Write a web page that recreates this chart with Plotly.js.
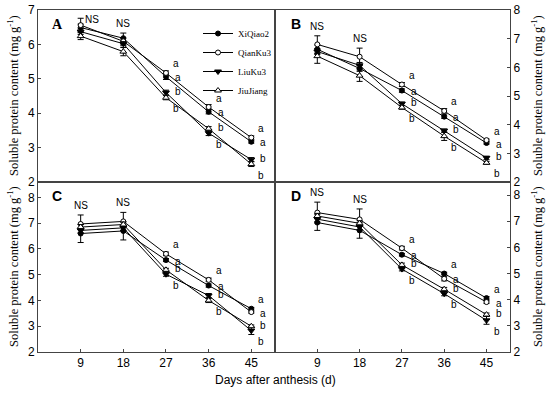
<!DOCTYPE html>
<html>
<head>
<meta charset="utf-8">
<script src="https://cdn.plot.ly/plotly-3.0.1.min.js"></script>
<style>html,body{margin:0;padding:0;background:#fff;}#chart{width:550px;height:399px;}</style>
</head>
<body>
<div id="chart"></div>
<script>
// ---- data ----
const days = [9, 18, 27, 36, 45];
const cultivars = ["XiQiao2", "QianKu3", "LiuKu3", "JiuJiang"];

// Panel A
const A_XiQiao2 = [6.49, 6.18, 5.06, 4.04, 3.17];
const A_QianKu3 = [6.56, 6.09, 5.17, 4.18, 3.29];
const A_LiuKu3 = [6.37, 6.02, 4.60, 3.42, 2.65];
const A_JiuJiang = [6.24, 5.79, 4.45, 3.55, 2.52];
const A_err_XiQiao2 = [0.10, 0.15, 0.08, 0.06, 0.04];
const A_err_QianKu3 = [0.20, 0.10, 0.06, 0.07, 0.05];
const A_err_LiuKu3 = [0.08, 0.06, 0.07, 0.07, 0.06];
const A_err_JiuJiang = [0.10, 0.12, 0.06, 0.06, 0.07];

// Panel B
const B_XiQiao2 = [6.63, 5.96, 5.19, 4.28, 3.36];
const B_QianKu3 = [6.80, 6.37, 5.40, 4.48, 3.46];
const B_LiuKu3 = [6.55, 6.07, 4.73, 3.79, 2.84];
const B_JiuJiang = [6.39, 5.71, 4.60, 3.60, 2.67];
const B_err_XiQiao2 = [0.15, 0.10, 0.06, 0.06, 0.04];
const B_err_QianKu3 = [0.30, 0.30, 0.07, 0.08, 0.04];
const B_err_LiuKu3 = [0.10, 0.10, 0.06, 0.06, 0.06];
const B_err_JiuJiang = [0.25, 0.20, 0.06, 0.15, 0.05];

// Panel C
const C_XiQiao2 = [6.60, 6.70, 5.57, 4.58, 3.68];
const C_QianKu3 = [6.97, 7.07, 5.81, 4.80, 3.55];
const C_LiuKu3 = [6.72, 6.82, 5.02, 4.19, 2.83];
const C_JiuJiang = [6.85, 6.95, 5.19, 4.00, 3.00];
const C_err_XiQiao2 = [0.35, 0.35, 0.06, 0.06, 0.05];
const C_err_QianKu3 = [0.35, 0.35, 0.07, 0.07, 0.04];
const C_err_LiuKu3 = [0.10, 0.10, 0.08, 0.08, 0.15];
const C_err_JiuJiang = [0.10, 0.10, 0.06, 0.08, 0.05];

// Panel D
const D_XiQiao2 = [6.95, 6.65, 5.72, 5.00, 4.06];
const D_QianKu3 = [7.33, 7.07, 5.97, 4.80, 3.91];
const D_LiuKu3 = [7.08, 6.78, 5.17, 4.23, 3.21];
const D_JiuJiang = [7.20, 6.92, 5.33, 4.40, 3.43];
const D_err_XiQiao2 = [0.30, 0.30, 0.05, 0.05, 0.06];
const D_err_QianKu3 = [0.40, 0.40, 0.07, 0.08, 0.05];
const D_err_LiuKu3 = [0.10, 0.10, 0.07, 0.08, 0.15];
const D_err_JiuJiang = [0.10, 0.10, 0.07, 0.07, 0.06];

const panelLabels = ["A", "B", "C", "D"];
const xTicks = [9, 18, 27, 36, 45];
const yTicksA = [2, 3, 4, 5, 6, 7];
const yTicksBCD = [2, 3, 4, 5, 6, 7, 8];
const yTitle = "Soluble protein content (mg g<sup>-1</sup>)";
const xTitle = "Days after anthesis (d)";

// ---- build ----
const panels = [
  {vals: [A_XiQiao2, A_QianKu3, A_LiuKu3, A_JiuJiang], errs: [A_err_XiQiao2, A_err_QianKu3, A_err_LiuKu3, A_err_JiuJiang], xa: "x", ya: "y"},
  {vals: [B_XiQiao2, B_QianKu3, B_LiuKu3, B_JiuJiang], errs: [B_err_XiQiao2, B_err_QianKu3, B_err_LiuKu3, B_err_JiuJiang], xa: "x2", ya: "y2"},
  {vals: [C_XiQiao2, C_QianKu3, C_LiuKu3, C_JiuJiang], errs: [C_err_XiQiao2, C_err_QianKu3, C_err_LiuKu3, C_err_JiuJiang], xa: "x3", ya: "y3"},
  {vals: [D_XiQiao2, D_QianKu3, D_LiuKu3, D_JiuJiang], errs: [D_err_XiQiao2, D_err_QianKu3, D_err_LiuKu3, D_err_JiuJiang], xa: "x4", ya: "y4"}
];

const markerStyles = [
  {symbol: "circle", size: 5, color: "#000", line: {color: "#000", width: 1}},
  {symbol: "circle", size: 5, color: "#fff", line: {color: "#000", width: 1}},
  {symbol: "triangle-down", size: 6, color: "#000", line: {color: "#000", width: 1}},
  {symbol: "triangle-up", size: 6, color: "#fff", line: {color: "#000", width: 1}}
];

const letterFont = {family: "Liberation Sans, Arial", size: 10, color: "#000000"};
const traces = [];
const annotations = [];
panels.forEach((p, pi) => {
  p.vals.forEach((v, si) => {
    traces.push({
      type: "scatter", mode: "lines+markers",
      x: days, y: v, xaxis: p.xa, yaxis: p.ya,
      name: cultivars[si], showlegend: pi === 0,
      line: {color: "#000", width: 1},
      marker: markerStyles[si],
      error_y: {type: "data", array: p.errs[si], visible: true, color: "#000", thickness: 1, width: 3}
    });
  });
  // significance letters
  days.forEach((d, di) => {
    if (di < 2) {
      let top = -Infinity;
      p.vals.forEach((v, si) => { top = Math.max(top, v[di] + p.errs[si][di]); });
      const side = (pi === 0 && di === 0);
      annotations.push({x: d, y: top, xref: p.xa, yref: p.ya, text: "NS", showarrow: false,
        xanchor: side ? "left" : "center", yanchor: "bottom",
        xshift: side ? 2 : 0, yshift: side ? -9 : 2, font: letterFont});
    } else {
      const order = [0, 1, 2, 3].sort((a, b) => p.vals[b][di] - p.vals[a][di]);
      const shifts = [[5, 9], [7, -1], [7, 1], [5, -11]];
      order.forEach((si, rank) => {
        annotations.push({x: d, y: p.vals[si][di], xref: p.xa, yref: p.ya,
          text: rank < 2 ? "a" : "b", showarrow: false, xanchor: "left", yanchor: "middle",
          xshift: shifts[rank][0], yshift: shifts[rank][1], font: letterFont});
      });
    }
  });
});

// panel letters
const letterPos = [[50, 25], [289, 24], [50, 196], [289, 196]];
panelLabels.forEach((t, i) => {
  annotations.push({x: letterPos[i][0] / 550, y: 1 - letterPos[i][1] / 399, xref: "paper", yref: "paper",
    text: "<b>" + t + "</b>", showarrow: false, xanchor: "left", yanchor: "middle",
    font: {family: i === 0 ? "Liberation Serif, Times New Roman" : "Liberation Sans, Arial", size: 14, color: "#000"}});
});
// y titles
[[13, 96], [537, 96], [13, 267], [537, 267]].forEach(pos => {
  annotations.push({x: pos[0] / 550, y: 1 - pos[1] / 399, xref: "paper", yref: "paper", text: yTitle,
    textangle: -90, showarrow: false, xanchor: "center", yanchor: "middle",
    font: {family: "Liberation Serif, Times New Roman", size: 12.5, color: "#000"}});
});
// x title
annotations.push({x: 275 / 550, y: 1 - 380 / 399, xref: "paper", yref: "paper", text: xTitle,
  showarrow: false, xanchor: "center", yanchor: "middle",
  font: {family: "Liberation Sans, Arial", size: 12, color: "#000"}});

const xl = 38 / 550, xm = 275 / 550, xr = 510 / 550;
const yt = 1 - 10 / 399, ym = 1 - 182 / 399, yb = 1 - 352 / 399;
const tickFont = {family: "Liberation Sans, Arial", size: 12, color: "#000"};

function xaxis(domain, anchor, labels) {
  return {domain: domain, anchor: anchor, range: [0, 50], tickvals: xTicks, showticklabels: labels,
    ticks: labels ? "inside" : "", ticklen: 3, tickcolor: "#444",
    showline: true, mirror: true, linecolor: "#444", linewidth: 1, showgrid: false, zeroline: false, tickfont: tickFont};
}
function yaxis(domain, anchor, range, tv, side) {
  return {domain: domain, anchor: anchor, range: range, tickvals: tv, side: side,
    ticks: "inside", ticklen: 3, tickcolor: "#444",
    showline: true, mirror: true, linecolor: "#444", linewidth: 1, showgrid: false, zeroline: false, tickfont: tickFont};
}

const layout = {
  width: 550, height: 399,
  margin: {l: 0, r: 0, t: 0, b: 0},
  paper_bgcolor: "#fff", plot_bgcolor: "rgba(0,0,0,0)",
  showlegend: true,
  legend: {x: 198 / 550, y: 1 - 19 / 399, xanchor: "left", yanchor: "top", bgcolor: "rgba(0,0,0,0)",
    font: {family: "Liberation Serif, Times New Roman", size: 9, color: "#000"}, tracegroupgap: 0, itemwidth: 30},
  xaxis: xaxis([xl, xm], "y", false),
  yaxis: yaxis([ym, yt], "x", [2, 7], yTicksA, "left"),
  xaxis2: xaxis([xm, xr], "y2", false),
  yaxis2: yaxis([ym, yt], "x2", [2, 8], yTicksBCD, "right"),
  xaxis3: xaxis([xl, xm], "y3", true),
  yaxis3: yaxis([yb, ym], "x3", [2, 8.6], yTicksBCD, "left"),
  xaxis4: xaxis([xm, xr], "y4", true),
  yaxis4: yaxis([yb, ym], "x4", [2, 8.5], yTicksBCD, "right"),
  annotations: annotations
};

Plotly.newPlot("chart", traces, layout, {staticPlot: true, displayModeBar: false});
</script>
</body>
</html>
